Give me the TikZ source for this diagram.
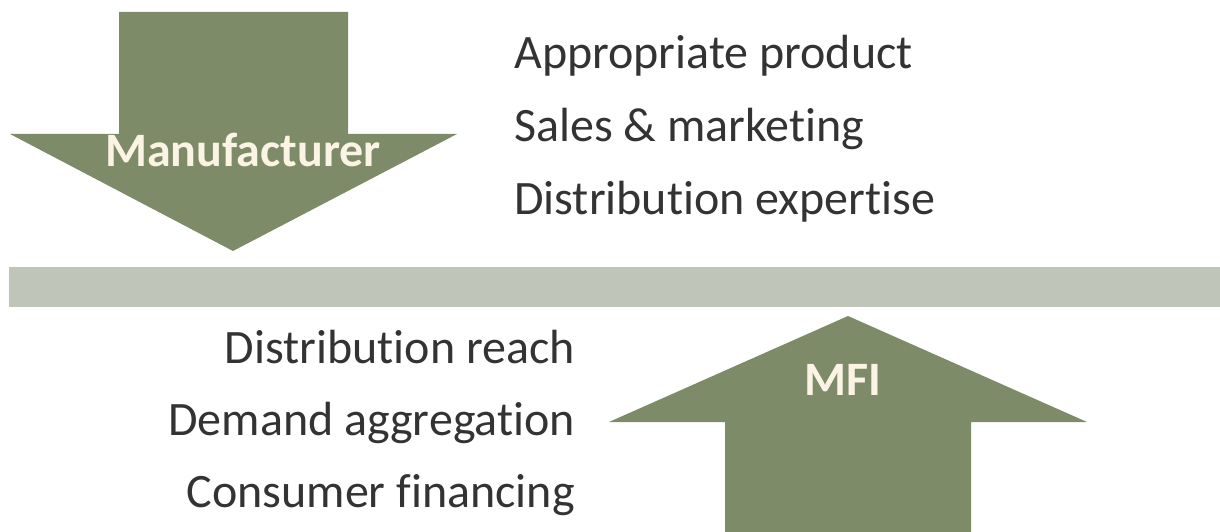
\documentclass[tikz,border=0pt]{standalone}
\usepackage{fontspec}
\setmainfont{Carlito}[Ligatures={NoCommon}]
\definecolor{arrowgreen}{HTML}{7E8B69}
\definecolor{bargray}{HTML}{BFC5B9}
\definecolor{txtgray}{HTML}{333333}
\definecolor{cream}{HTML}{FBF4E4}
\begin{document}
\begin{tikzpicture}[x=1pt,y=-1pt,
  item/.style={inner sep=0pt,text=txtgray,font=\fontsize{48}{56}\selectfont},
  lbl/.style={inner sep=0pt,text=cream,font=\fontsize{48}{56}\selectfont\bfseries},
  shapefill/.style={fill=arrowgreen,draw=none}]
\useasboundingbox (0,0) rectangle (1220,532);
% separator bar
\fill[bargray] (9,267) rectangle (1220,307);
% down arrow (Manufacturer)
\fill[shapefill] (119,12) -- (348,12) -- (348,134) -- (457,134) -- (233,251) -- (10,134) -- (119,134) -- cycle;
\node[lbl,anchor=base] (manu) at (243,166) {Manufacturer};
% up arrow (MFI)
\fill[shapefill] (848,316) -- (1087,422) -- (971,422) -- (971,532) -- (725,532) -- (725,422) -- (609,422) -- cycle;
\node[lbl,anchor=base] (mfi) at (843,395) {MFI};
% manufacturer contributions
\node[item,anchor=base west] (t1) at (514,69) {Appropriate product};
\node[item,anchor=base west] (t2) at (514,141.5) {Sales \& marketing};
\node[item,anchor=base west] (t3) at (514,214) {Distribution expertise};
% MFI contributions
\node[item,anchor=base east] (b1) at (575,363) {Distribution reach};
\node[item,anchor=base east] (b2) at (575,435) {Demand aggregation};
\node[item,anchor=base east] (b3) at (575,507) {Consumer financing};
\end{tikzpicture}
\end{document}
